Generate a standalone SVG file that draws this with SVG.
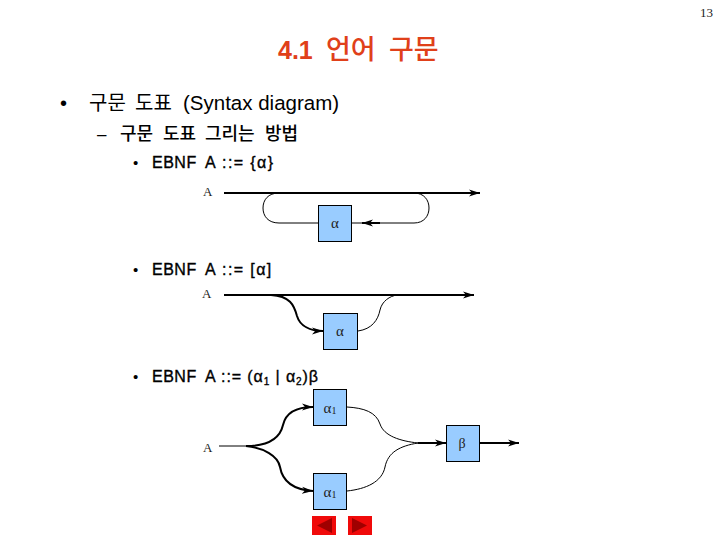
<svg xmlns="http://www.w3.org/2000/svg" width="720" height="540" viewBox="0 0 720 540">
<style>
.b{font-family:"Liberation Sans","Noto Sans CJK KR",sans-serif;fill:#000}
.k{font-family:"Noto Sans CJK KR","Liberation Sans",sans-serif;fill:#000}
.s{font-family:"Liberation Serif","DejaVu Serif",serif;fill:#222}
.e{font-family:"Liberation Sans",sans-serif;fill:#000;font-size:16px;stroke:#000;stroke-width:.35}
.t{font-family:"Noto Sans CJK KR",sans-serif;fill:#e0401a;font-size:27px;font-weight:500}
.box{fill:#99ccff;stroke:#000;stroke-width:1}
.thin{fill:none;stroke:#000;stroke-width:1}
.thick{fill:none;stroke:#000;stroke-width:2}
</style>
<defs>
<marker id="arr" markerUnits="userSpaceOnUse" markerWidth="12" markerHeight="8" refX="11" refY="4" orient="auto"><path d="M0 .5L11 4L0 7.500L3 4Z" fill="#000"/></marker>
</defs>
<rect width="720" height="540" fill="#fff"/>
<text x="713" y="17" text-anchor="end" font-size="13" class="s">13</text>
<text x="278" y="59" font-size="25" font-weight="700" style="font-family:'Liberation Sans',sans-serif;fill:#e0401a">4.1</text>
<text x="326" y="59" class="t">언어</text>
<text x="389" y="59" class="t">구문</text>
<text x="60" y="110" font-size="20" class="b">•</text>
<text x="89" y="110" font-size="20" class="k">구문</text>
<text x="135" y="110" font-size="20" class="k">도표</text>
<text x="183" y="110" font-size="20.500" class="b">(Syntax diagram)</text>
<text x="97" y="140" font-size="17" class="b">–</text>
<text x="120" y="140" font-size="18" class="k" font-weight="500">구문</text>
<text x="163" y="140" font-size="18" class="k" font-weight="500">도표</text>
<text x="205" y="140" font-size="18" class="k" font-weight="500">그리는</text>
<text x="265" y="140" font-size="18" class="k" font-weight="500">방법</text>
<text x="133" y="168" font-size="15" class="b">•</text>
<text x="152" y="168" class="e" letter-spacing=".5">EBNF</text>
<text x="205" y="168" class="e" letter-spacing="1.400">A ::= {α}</text>
<text x="133" y="275" font-size="15" class="b">•</text>
<text x="152" y="275" class="e" letter-spacing=".5">EBNF</text>
<text x="205" y="275" class="e" letter-spacing="1.400">A ::= [α]</text>
<text x="133" y="382" font-size="15" class="b">•</text>
<text x="152" y="382" class="e" letter-spacing=".5">EBNF</text>
<text x="205" y="382" class="e" letter-spacing=".9">A ::= (α<tspan font-size="10" dy="3">1</tspan><tspan dy="-3">  | α</tspan><tspan font-size="10" dy="3">2</tspan><tspan dy="-3">)β</tspan></text>
<g id="connectors">
<path class="thick" d="M224 193H480" marker-end="url(#arr)"/>
<path class="thin" d="M318 223H279C268 223 263 216 263 208C263 200 268 193 279 193"/>
<path class="thin" d="M352 223H414C424 223 429 216 429 208C429 200 424 193 414 193"/>
<path class="thick" d="M380 223H362" marker-end="url(#arr)"/>
<path class="thick" d="M224 295H474" marker-end="url(#arr)"/>
<path class="thick" d="M271 295C290 296 294 305 297 316C300 326 310 331 323 331" marker-end="url(#arr)"/>
<path class="thin" d="M358 331C372 329 378 320 380 310C382 301 390 296 397 295"/>
<path class="thin" d="M219 446H250"/>
<path class="thick" d="M246 446C268 446 280 438 283 425C286 412 298 407 313 407" marker-end="url(#arr)"/>
<path class="thick" d="M246 446C264 448 278 456 280 467C283 484 298 490 313 491" marker-end="url(#arr)"/>
<path class="thin" d="M347 407C364 408 376 412 380 424C384 436 400 441 418 443"/>
<path class="thin" d="M347 491C366 489 382 482 385 467C388 452 400 446 418 443"/>
<path class="thick" d="M418 443H446" marker-end="url(#arr)"/>
<path class="thick" d="M480 443H519" marker-end="url(#arr)"/>
</g>
<g id="label-A1"><text x="203" y="196" font-size="13" class="s">A</text></g>
<g id="node-alpha1"><rect class="box" x="318.500" y="205.500" width="33" height="36"/><text x="335" y="228" text-anchor="middle" font-size="15" class="s">α</text></g>
<g id="label-A2"><text x="202" y="298" font-size="13" class="s">A</text></g>
<g id="node-alpha2"><rect class="box" x="323.500" y="313.500" width="34" height="36"/><text x="340" y="336" text-anchor="middle" font-size="15" class="s">α</text></g>
<g id="label-A3"><text x="203" y="452" font-size="13" class="s">A</text></g>
<g id="node-alpha3"><rect class="box" x="313.500" y="389.500" width="33" height="36"/><text x="330" y="413" text-anchor="middle" font-size="15" class="s">α<tspan font-size="10" dy="1">1</tspan></text></g>
<g id="node-alpha4"><rect class="box" x="313.500" y="473.500" width="33" height="36"/><text x="330" y="497" text-anchor="middle" font-size="15" class="s">α<tspan font-size="10" dy="1">1</tspan></text></g>
<g id="node-beta"><rect class="box" x="446.500" y="425.500" width="33" height="36"/><text x="462" y="448" text-anchor="middle" font-size="14" class="s">β</text></g>
<g id="nav-prev"><rect x="312" y="516" width="24" height="19" fill="#f00a0a"/><path d="M317 525.500L332 518V533Z" fill="#a00000"/></g>
<g id="nav-next"><rect x="348" y="516" width="24" height="19" fill="#f00a0a"/><path d="M367 525.500L352 518V533Z" fill="#a00000"/></g>
</svg>
